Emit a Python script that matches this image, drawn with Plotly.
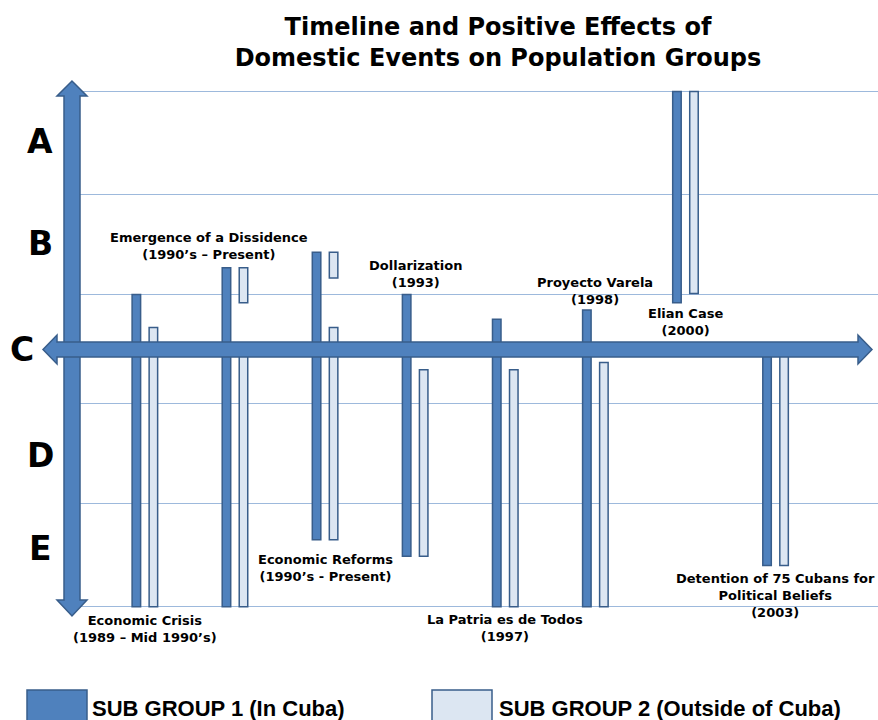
import plotly.graph_objects as go

# ---- data -------------------------------------------------------------
EVENTS = [
    "Economic Crisis", "Emergence of a Dissidence", "Economic Reforms",
    "Dollarization", "La Patria es de Todos", "Proyecto Varela",
    "Elian Case", "Detention of 75 Cubans",
]
EVENT_LABELS = [
    "Economic Crisis<br>(1989 – Mid 1990’s)",
    "Emergence of a Dissidence<br>(1990’s – Present)",
    "Economic Reforms<br>(1990’s - Present)",
    "Dollarization<br>(1993)",
    "La Patria es de Todos<br>(1997)",
    "Proyecto Varela<br>(1998)",
    "Elian Case<br>(2000)",
    "Detention of 75 Cubans for<br>Political Beliefs<br>(2003)",
]

# effect range per event (C = 0 neutral, A = +2 ... E = -2)
SG1_LOW = [-2.5, -2.5, -1.85, -2.01, -2.5, -2.5, 0.45, -2.1]
SG1_HIGH = [0.53, 0.79, 0.94, 0.53, 0.29, 0.38, 2.5, 0.0]
SG2_LOW = [-2.5, -2.5, -1.85, -2.01, -2.5, -2.5, 0.54, -2.1]
SG2_HIGH = [0.21, 0.0, 0.21, -0.2, -0.2, -0.13, 2.5, 0.0]
# detached upper segment of sub group 2 (None where absent)
SG2_UP_LOW = [None, 0.45, 0.69, None, None, None, None, None]
SG2_UP_HIGH = [None, 0.79, 0.94, None, None, None, None, None]

LEVELS = ["A", "B", "C", "D", "E"]
LEVEL_VALUES = [2.02, 1.03, 0.0, -1.03, -1.93]
GRID_VALUES = [-2.5, -1.5, -0.53, 0.53, 1.5, 2.5]

SERIES_NAMES = ["SUB GROUP 1 (In Cuba)", "SUB GROUP 2 (Outside of Cuba)"]

# ---- layout positions for labels (data y units) -----------------------
LABEL_Y = [-2.714, 1.005, -2.121, 0.728, -2.709, 0.568, 0.262, -2.388]
LABEL_XSHIFT = [0, -26, 0, 0, 0, 0, 0, 0]

# ---- styling ---------------------------------------------------------
DARK = "#4F81BD"
LIGHT = "#DCE6F2"
EDGE = "#385D8A"
GRID = "#9DB9DC"

W, H = 878, 720
PL, PR, PT, PB = 80, 878, 71, 650
Y_RANGE = [-2.92, 2.7]
X_RANGE = [-0.72, 8.137]


def fx(px):
    return (px - PL) / (PR - PL)


def fy(py):
    return (PB - py) / (PB - PT)


def path(points):
    pts = [f"{fx(x):.5f},{fy(y):.5f}" for x, y in points]
    return "M " + " L ".join(pts) + " Z"


xs = list(range(len(EVENTS)))


def spans(lo, hi):
    return [None if (a is None or b is None) else b - a for a, b in zip(lo, hi)]


fig = go.Figure()
bar_line = dict(color=EDGE, width=1.5)
fig.add_trace(go.Bar(
    x=xs, y=spans(SG1_LOW, SG1_HIGH), base=SG1_LOW, name=SERIES_NAMES[0],
    marker=dict(color=DARK, line=bar_line), offsetgroup="g1", showlegend=False,
    hoverinfo="skip",
))
fig.add_trace(go.Bar(
    x=xs, y=spans(SG2_LOW, SG2_HIGH), base=SG2_LOW, name=SERIES_NAMES[1],
    marker=dict(color=LIGHT, line=bar_line), offsetgroup="g2", showlegend=False,
    hoverinfo="skip",
))
fig.add_trace(go.Bar(
    x=xs, y=spans(SG2_UP_LOW, SG2_UP_HIGH),
    base=[b if b is not None else 0 for b in SG2_UP_LOW], name=SERIES_NAMES[1],
    marker=dict(color=LIGHT, line=bar_line), offsetgroup="g2", showlegend=False,
    hoverinfo="skip",
))

shapes = []
# vertical axis arrow
shapes.append(dict(
    type="path", xref="paper", yref="paper", layer="above",
    path=path([(64, 96), (57, 96), (72, 81), (87, 96), (80, 96), (80, 600),
               (87, 600), (72, 616), (57, 600), (64, 600)]),
    fillcolor=DARK, line=dict(color=EDGE, width=1.5),
))
# horizontal timeline arrow
shapes.append(dict(
    type="path", xref="paper", yref="paper", layer="above",
    path=path([(43, 349.5), (57, 335), (57, 342), (858, 342), (858, 335),
               (872, 349.5), (858, 364), (858, 357), (57, 357), (57, 364)]),
    fillcolor=DARK, line=dict(color=EDGE, width=1.5),
))
# legend swatches
for (x0, x1), fill in [((27, 87), DARK), ((432, 492), LIGHT)]:
    shapes.append(dict(
        type="rect", xref="paper", yref="paper",
        x0=fx(x0), x1=fx(x1), y0=fy(690), y1=fy(724),
        fillcolor=fill, line=dict(color=EDGE, width=1.5),
    ))

annotations = []
label_font = dict(family="DejaVu Sans", size=13, color="black", weight="bold")
for i, (txt, yv, sh) in enumerate(zip(EVENT_LABELS, LABEL_Y, LABEL_XSHIFT)):
    annotations.append(dict(
        x=xs[i], y=yv, xref="x", yref="y", text=txt, showarrow=False,
        xanchor="center", yanchor="middle", xshift=sh, font=label_font,
        align="center",
    ))

for lv, yv in zip(LEVELS, LEVEL_VALUES):
    annotations.append(dict(
        x=fx(22 if lv == "C" else 40), y=yv, xref="paper", yref="y", text=lv,
        showarrow=False, xanchor="center", yanchor="middle",
        font=dict(family="DejaVu Sans", size=33, color="black", weight="bold"),
    ))

legend_font = dict(family="Liberation Sans, Arial, sans-serif",
                   size=22, color="black")
for name, px in zip(SERIES_NAMES, [90, 497]):
    annotations.append(dict(
        x=fx(px), y=fy(708), xref="paper", yref="paper", text=f"<b>{name}</b>",
        showarrow=False, xanchor="left", yanchor="middle", font=legend_font,
    ))

fig.update_layout(
    width=W, height=H,
    margin=dict(l=PL, r=W - PR, t=PT, b=H - PB),
    paper_bgcolor="white", plot_bgcolor="white",
    barmode="group", bargap=0.622, bargroupgap=0.5,
    title=dict(
        text="Timeline and Positive Effects of<br>Domestic Events on Population Groups",
        x=fx(498), xref="paper", xanchor="center",
        y=1 - 35 / H, yref="container", yanchor="middle",
        font=dict(family="DejaVu Sans", size=24, color="black", weight="bold"),
    ),
    xaxis=dict(range=X_RANGE, showgrid=False, zeroline=False, showticklabels=False,
               ticks="", showline=False),
    yaxis=dict(range=Y_RANGE, tickvals=GRID_VALUES, showticklabels=False,
               gridcolor=GRID, gridwidth=1, zeroline=False, showline=False, ticks=""),
    shapes=shapes,
    annotations=annotations,
    showlegend=False,
)

fig.write_html("out.html")
